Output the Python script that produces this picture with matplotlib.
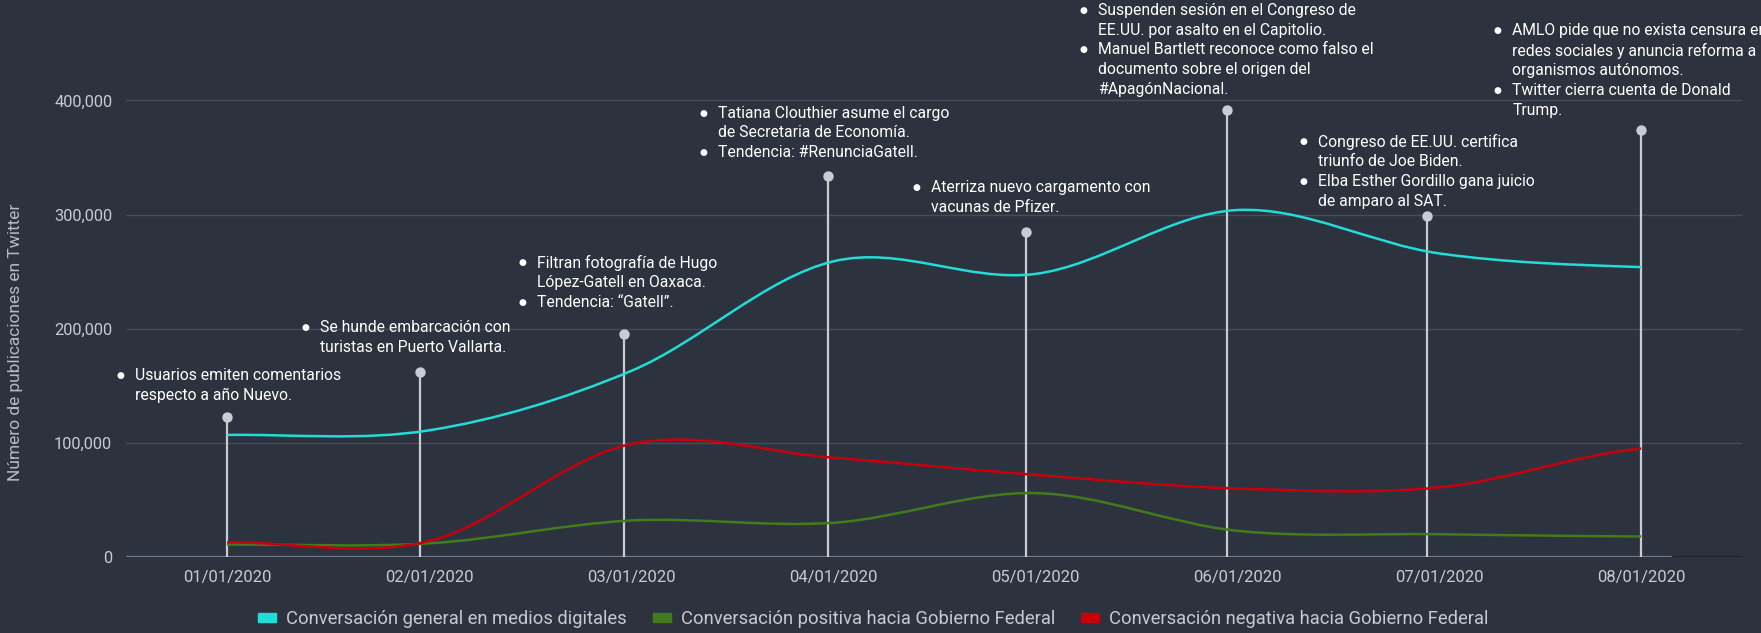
import matplotlib
matplotlib.use("Agg")
from matplotlib import pyplot as plt
from matplotlib.path import Path
from matplotlib.patches import PathPatch, Patch

plt.rcParams['font.family'] = ['Roboto', 'DejaVu Sans']

## Datos
fechas = ["01/01/2020", "02/01/2020", "03/01/2020", "04/01/2020",
          "05/01/2020", "06/01/2020", "07/01/2020", "08/01/2020"]
general = [107000, 111000, 163000, 259000, 248000, 304000, 266000, 254000]
positiva = [11000, 12000, 32000, 30000, 56000, 23000, 20000, 18000]
negativa = [13000, 14000, 99000, 87000, 72000, 60000, 61000, 95000]
# posicion y altura de cada linea de evento (tallo con punto)
eventos_x = [0, 0.957, 1.965, 2.975, 3.955, 4.95, 5.94, 7.0]
eventos_altura = [123000, 162500, 195000, 334000, 285000, 392000, 298500, 374000]
# texto de los eventos: una lista de vinetas por fecha, cada vineta en renglones
eventos_texto = [
    [["Usuarios emiten comentarios", "respecto a año Nuevo."]],
    [["Se hunde embarcación con", "turistas en Puerto Vallarta."]],
    [["Filtran fotografía de Hugo", "López-Gatell en Oaxaca."],
     ["Tendencia: “Gatell”."]],
    [["Tatiana Clouthier asume el cargo", "de Secretaria de Economía."],
     ["Tendencia: #RenunciaGatell."]],
    [["Aterriza nuevo cargamento con", "vacunas de Pfizer."]],
    [["Suspenden sesión en el Congreso de", "EE.UU. por asalto en el Capitolio."],
     ["Manuel Bartlett reconoce como falso el", "documento sobre el origen del",
      "#ApagónNacional."]],
    [["Congreso de EE.UU. certifica", "triunfo de Joe Biden."],
     ["Elba Esther Gordillo gana juicio", "de amparo al SAT."]],
    [["AMLO pide que no exista censura en", "redes sociales y anuncia reforma a",
      "organismos autónomos."],
     ["Twitter cierra cuenta de Donald", "Trump."]],
]
# donde empieza cada bloque de texto (desplazamiento en x respecto a la fecha, y del primer renglon)
texto_dx = [-0.53, -0.61, -0.54, -0.64, -0.59, -0.76, -0.67, -0.71]
texto_y = [159000, 201000, 258000, 389000, 324000, 479000, 364000, 461000]

series = [
    ("Conversación general en medios digitales", general, "#22dcd8"),
    ("Conversación positiva hacia Gobierno Federal", positiva, "#437a1c"),
    ("Conversación negativa hacia Gobierno Federal", negativa, "#c8000c"),
]

fondo = "#2c333e"

fig = plt.figure(figsize=(17.61, 6.33), dpi=100, facecolor=fondo)
ax = fig.add_axes([0.0716, 0.12, 0.9177, 0.88])
ax.set_facecolor(fondo)

x = list(range(len(fechas)))


def curva(xs, ys):
    # curva suave tipo "function" (Catmull-Rom -> Bezier)
    verts = [(xs[0], ys[0])]
    codes = [Path.MOVETO]
    n = len(xs)
    for i in range(n - 1):
        y0 = ys[i - 1] if i > 0 else ys[i]
        y3 = ys[i + 2] if i + 2 < n else ys[i + 1]
        m1 = (ys[i + 1] - y0) / 2
        m2 = (y3 - ys[i]) / 2
        verts += [(xs[i] + 1 / 3, ys[i] + m1 / 3),
                  (xs[i + 1] - 1 / 3, ys[i + 1] - m2 / 3),
                  (xs[i + 1], ys[i + 1])]
        codes += [Path.CURVE4] * 3
    return Path(verts, codes)


# grid
for v in [100000, 200000, 300000, 400000]:
    ax.axhline(v, color="#464d58", lw=1, zorder=0)
ax.axhline(0, xmin=0, xmax=0.957, color="#6f7a89", lw=1.6, zorder=1)
ax.axhline(0, xmin=0.957, xmax=1, color="#1d2229", lw=1.6, zorder=1)

# tallos de eventos
ax.vlines(eventos_x, 0, eventos_altura, color="#c9ccd3", lw=1.6, zorder=2)
ax.scatter(eventos_x, eventos_altura, s=42, color="#c9ccd3", zorder=2, clip_on=False)

# lineas
for nombre, vals, col in series:
    ax.add_patch(PathPatch(curva(x, vals), fill=False, edgecolor=col, lw=1.8, zorder=3))

# textos de eventos
paso = 14.3
for i, bloques in enumerate(eventos_texto):
    renglon = 0
    for vineta in bloques:
        ax.annotate("●", xy=(i + texto_dx[i], texto_y[i]), xytext=(0, -renglon * paso),
                    textcoords="offset points", color="white", fontsize=6.5,
                    ha="center", va="center", annotation_clip=False)
        for linea in vineta:
            ax.annotate(linea, xy=(i + texto_dx[i], texto_y[i]), xytext=(10.5, -renglon * paso),
                        textcoords="offset points", color="white", fontsize=11.3,
                        ha="left", va="center", annotation_clip=False)
            renglon += 1

ax.set_xlim(-0.5, 7.5)
ax.set_ylim(0, 488000)
ax.set_xticks(x)
ax.set_xticklabels(fechas)
ax.set_yticks([0, 100000, 200000, 300000, 400000])
ax.set_yticklabels(["0", "100,000", "200,000", "300,000", "400,000"])
ax.tick_params(axis="both", length=0, colors="#c8cace")
ax.tick_params(axis="x", pad=9, labelsize=12)
ax.tick_params(axis="y", pad=10, labelsize=11.8)
for s in ax.spines.values():
    s.set_visible(False)

fig.text(0.009, 0.46, "Número de publicaciones en Twitter", rotation=90,
         color="#b8bbc0", fontsize=12.5, ha="center", va="center")

handles = [Patch(facecolor=col, edgecolor=col) for _, _, col in series]
fig.legend(handles, [s[0] for s in series], loc="center", bbox_to_anchor=(0.496, 0.022),
           ncol=3, frameon=False, fontsize=13.2, labelcolor="#c8cace",
           handlelength=1.0, handleheight=0.4, handletextpad=0.55, columnspacing=1.4)

fig.savefig("out.png", dpi=100, facecolor=fondo)
